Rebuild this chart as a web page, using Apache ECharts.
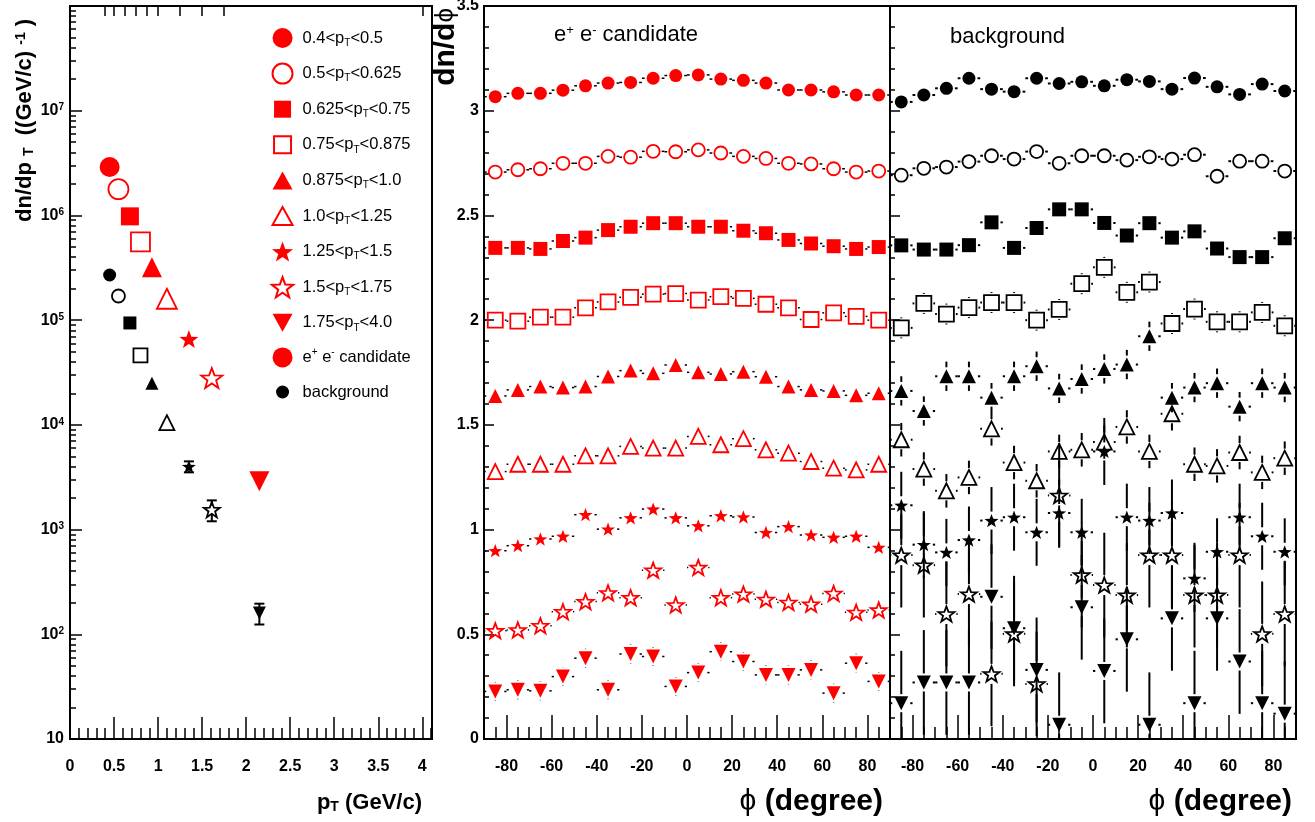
<!DOCTYPE html>
<html>
<head>
<meta charset="utf-8">
<title>dn/dpT and dn/dphi</title>
<script src="https://cdn.jsdelivr.net/npm/echarts@6.0.0/dist/echarts.min.js"></script>
<style>
  html, body { margin: 0; padding: 0; background: #fff; }
  #chart { width: 1315px; height: 822px; }
</style>
</head>
<body>
<div id="chart"></div>
<script>
// ---- left panel: pT spectra ----
const ptBins = ['0.4<pT<0.5', '0.5<pT<0.625', '0.625<pT<0.75', '0.75<pT<0.875', '0.875<pT<1.0',
                '1.0<pT<1.25', '1.25<pT<1.5', '1.5<pT<1.75', '1.75<pT<4.0'];
const ptEdges = [0.4, 0.5, 0.625, 0.75, 0.875, 1.0, 1.25, 1.5, 1.75, 4.0];
const ptMean = [0.45, 0.55, 0.68, 0.80, 0.93, 1.10, 1.35, 1.61, 2.15];
const candYield = [2.9e6, 1.78e6, 9.8e5, 5.6e5, 3.2e5, 1.6e5, 6.6e4, 2.8e4, 2.9e3];
const bgYield = [2.7e5, 1.7e5, 9.4e4, 4.6e4, 2.5e4, 1.05e4, 4.0e3, 1.55e3, 1.6e2];
const bgYieldErr = [0, 0, 0, 0, 0, 0, 480, 350, 36];
const ptTicks = [0, 0.5, 1, 1.5, 2, 2.5, 3, 3.5, 4];

// ---- phi distributions ----
const phi = [-85, -75, -65, -55, -45, -35, -25, -15, -5, 5, 15, 25, 35, 45, 55, 65, 75, 85];
const phiTicks = [-80, -60, -40, -20, 0, 20, 40, 60, 80];

const cand1 = [3.067, 3.083, 3.083, 3.098, 3.119, 3.132, 3.135, 3.155, 3.168, 3.171, 3.151, 3.145, 3.132, 3.099, 3.099, 3.090, 3.075, 3.075];
const cand2 = [2.707, 2.718, 2.723, 2.749, 2.749, 2.782, 2.778, 2.806, 2.804, 2.813, 2.798, 2.782, 2.772, 2.749, 2.746, 2.723, 2.707, 2.712];
const cand3 = [2.345, 2.345, 2.340, 2.378, 2.394, 2.430, 2.446, 2.463, 2.463, 2.446, 2.446, 2.427, 2.415, 2.383, 2.366, 2.353, 2.340, 2.349];
const cand4 = [2.000, 1.995, 2.014, 2.014, 2.059, 2.087, 2.109, 2.124, 2.127, 2.096, 2.112, 2.104, 2.076, 2.059, 2.003, 2.035, 2.018, 2.000];
const cand5 = [1.638, 1.667, 1.683, 1.678, 1.683, 1.731, 1.759, 1.746, 1.786, 1.751, 1.743, 1.754, 1.730, 1.683, 1.667, 1.662, 1.641, 1.651];
const cand6 = [1.277, 1.312, 1.312, 1.312, 1.352, 1.352, 1.397, 1.389, 1.389, 1.445, 1.405, 1.434, 1.381, 1.365, 1.325, 1.293, 1.285, 1.312];
const cand7 = [0.899, 0.923, 0.955, 0.968, 1.071, 1.002, 1.056, 1.098, 1.056, 1.018, 1.066, 1.060, 0.986, 1.014, 0.974, 0.963, 0.968, 0.915];
const cand8 = [0.517, 0.521, 0.541, 0.608, 0.656, 0.698, 0.675, 0.806, 0.640, 0.819, 0.675, 0.692, 0.667, 0.652, 0.644, 0.695, 0.605, 0.616];
const cand9 = [0.227, 0.235, 0.230, 0.298, 0.386, 0.235, 0.406, 0.394, 0.251, 0.317, 0.417, 0.370, 0.306, 0.306, 0.330, 0.219, 0.362, 0.275];
const candErr = [0.008, 0.010, 0.012, 0.015, 0.020, 0.025, 0.025, 0.040, 0.045];

const bg1 = [3.042, 3.075, 3.107, 3.155, 3.103, 3.091, 3.155, 3.130, 3.138, 3.119, 3.148, 3.140, 3.103, 3.156, 3.114, 3.078, 3.127, 3.094];
const bg2 = [2.692, 2.725, 2.731, 2.757, 2.785, 2.769, 2.805, 2.749, 2.785, 2.785, 2.764, 2.780, 2.769, 2.790, 2.687, 2.759, 2.759, 2.712];
const bg3 = [2.357, 2.337, 2.337, 2.358, 2.467, 2.345, 2.440, 2.529, 2.529, 2.464, 2.404, 2.463, 2.394, 2.424, 2.342, 2.301, 2.301, 2.391];
const bg4 = [1.963, 2.080, 2.029, 2.060, 2.084, 2.084, 2.000, 2.051, 2.174, 2.252, 2.133, 2.182, 1.984, 2.053, 1.992, 1.992, 2.037, 1.973];
const bg5 = [1.662, 1.566, 1.732, 1.732, 1.630, 1.732, 1.780, 1.674, 1.719, 1.767, 1.788, 1.923, 1.630, 1.678, 1.699, 1.587, 1.699, 1.678];
const bg6 = [1.429, 1.289, 1.185, 1.249, 1.481, 1.320, 1.233, 1.373, 1.381, 1.418, 1.490, 1.373, 1.553, 1.312, 1.304, 1.368, 1.273, 1.341];
const bg7 = [1.116, 0.928, 0.891, 0.950, 1.043, 1.059, 0.987, 1.079, 0.987, 1.373, 1.059, 1.043, 1.079, 0.767, 0.894, 1.059, 0.968, 0.894];
const bg8 = [0.878, 0.830, 0.597, 0.692, 0.311, 0.502, 0.263, 1.163, 0.783, 0.735, 0.687, 0.878, 0.878, 0.687, 0.687, 0.878, 0.502, 0.597];
const bg9 = [0.171, 0.270, 0.270, 0.270, 0.679, 0.529, 0.330, 0.068, 0.629, 0.325, 0.476, 0.068, 0.576, 0.171, 0.576, 0.370, 0.171, 0.121];
const bgErr = [0.012, 0.020, 0.030, 0.050, 0.070, 0.080, 0.160, 0.250, 0.250];

const candSets = [cand1, cand2, cand3, cand4, cand5, cand6, cand7, cand8, cand9];
const bgSets = [bg1, bg2, bg3, bg4, bg5, bg6, bg7, bg8, bg9];

// ---- styling ----
const FONT = "'Liberation Sans', Arial, sans-serif";
const RED = '#ff0000';
const BLACK = '#000000';
const STAR = 'path://M50 0L62.5 34L98.5 35L70 57L80.5 92L50 71L19.5 92L30 57L1.5 35L37.5 34Z';
const markers = [
  { symbol: 'circle', open: false },
  { symbol: 'circle', open: true },
  { symbol: 'rect', open: false, icon: 'path://M0 0M20 20M1.5 1.5L18.5 1.5L18.5 18.5L1.5 18.5Z' },
  { symbol: 'rect', open: true, icon: 'path://M0 0M20 20M1.5 1.5L18.5 1.5L18.5 18.5L1.5 18.5Z' },
  { symbol: 'triangle', open: false, icon: 'path://M0 0M20 20M10 1L20 19L0 19Z' },
  { symbol: 'triangle', open: true, icon: 'path://M0 0M20 20M10 1L20 19L0 19Z' },
  { symbol: STAR, open: false },
  { symbol: STAR, open: true },
  { symbol: 'triangle', open: false, rotate: 180, icon: 'path://M0 0M20 20M0 1L20 1L10 19Z' }
];
const BG_ICON = 'path://M0 0M20 20M3.5 10A6.5 6.5 0 1 0 16.5 10A6.5 6.5 0 1 0 3.5 10Z';
const leftRedSize = [20, 20, 18, 19, 20, 20, 19, 21, 20];
const leftBlackSize = [13, 13, 13, 14, 13, 15, 14, 16, 13];
const phiSize = [13, 13, 14, 15, 14, 15, 14, 16, 14];

const ptMinor = [];
for (let v = 1; v <= 41; v++) ptMinor.push(v / 10);
const phiMinor = [];
for (let v = -85; v <= 85; v += 5) phiMinor.push(v);
const logMinor = [];
for (let d = 1; d < 8; d++) for (let m = 2; m <= 9; m++) logMinor.push(d + Math.log10(m));

function markerSeries(name, xi, yi, xs, ys, k, color, size) {
  const m = markers[k];
  return {
    name: name, type: 'scatter', xAxisIndex: xi, yAxisIndex: yi,
    data: xs.map((x, i) => [x, ys[i]]),
    symbol: m.symbol, symbolRotate: m.rotate || 0, symbolSize: size, symbolKeepAspect: true,
    itemStyle: m.open
      ? { color: 'rgba(255,255,255,0)', borderColor: color, borderWidth: 1.8, opacity: 1 }
      : { color: color, borderWidth: 0, opacity: 1 },
    silent: true, z: 3
  };
}

// error bars drawn ROOT-style: they stop short of the marker
function errorBars(halfX, cap, width, size) {
  return function (params, api) {
    const x = api.value(0), y = api.value(1), e = api.value(2);
    const cs = params.coordSys;
    const clampY = v => Math.min(cs.y + cs.height, Math.max(cs.y, v));
    const c = api.coord([x, y]);
    const gap = size / 2 + 2;
    const ls = { stroke: '#000', lineWidth: width };
    const kids = [];
    const seg = (x1, y1, x2, y2) => kids.push({ type: 'line', shape: { x1: x1, y1: y1, x2: x2, y2: y2 }, style: ls });
    if (e > 0) {
      const top = clampY(api.coord([x, y + e])[1]);
      const bot = clampY(api.coord([x, y - e])[1]);
      if (top < c[1] - gap) seg(c[0], top, c[0], c[1] - gap);
      if (bot > c[1] + gap) seg(c[0], c[1] + gap, c[0], bot);
      if (cap) {
        seg(c[0] - cap, top, c[0] + cap, top);
        seg(c[0] - cap, bot, c[0] + cap, bot);
      }
    }
    if (halfX) {
      const l = api.coord([x - halfX, y])[0], r = api.coord([x + halfX, y])[0];
      if (l < c[0] - gap) seg(l, c[1], c[0] - gap, c[1]);
      if (r > c[0] + gap) seg(c[0] + gap, c[1], r, c[1]);
    }
    return { type: 'group', children: kids };
  };
}

function errorSeries(xi, yi, xs, ys, errs, halfX, cap, width, size) {
  return {
    type: 'custom', xAxisIndex: xi, yAxisIndex: yi, silent: true, z: 2,
    encode: { x: 0, y: 1 },
    data: xs.map((x, i) => [x, ys[i], errs[i]]),
    renderItem: errorBars(halfX, cap, width, size)
  };
}

const tickLine = { color: '#000', width: 1.5 };
const labelStyle = { color: '#000', fontFamily: FONT, fontWeight: 'bold', fontSize: 16 };

function tickAxis(gridIndex, min, max, values, len, pos, withLabels) {
  return {
    type: 'value', gridIndex: gridIndex, min: min, max: max, position: pos,
    axisLine: { show: false, onZero: false },
    splitLine: { show: false },
    axisTick: { show: true, inside: true, length: len, customValues: values, lineStyle: tickLine },
    axisLabel: withLabels
      ? Object.assign({ show: true, customValues: values, margin: 20, formatter: v => String(v) }, labelStyle)
      : { show: false }
  };
}

function phiYAxis(gridIndex, withLabels) {
  return {
    type: 'value', gridIndex: gridIndex, min: 0, max: 3.5, interval: 0.5, position: 'left',
    axisLine: { show: false, onZero: false },
    splitLine: { show: false },
    axisTick: { show: true, inside: true, length: 10, lineStyle: tickLine },
    minorTick: { show: true, splitNumber: 5, length: 5, lineStyle: tickLine },
    axisLabel: withLabels ? Object.assign({ show: true, margin: 5 }, labelStyle) : { show: false }
  };
}

const gridBox = { show: true, borderColor: '#000', borderWidth: 2, backgroundColor: 'transparent', outerBoundsMode: 'none' };

const series = [];
// left panel
ptBins.forEach((name, k) => {
  series.push(markerSeries(name, 0, 0, [ptMean[k]], [candYield[k]], k, RED, leftRedSize[k]));
});
ptBins.forEach((name, k) => {
  series.push(markerSeries('bg ' + name, 0, 0, [ptMean[k]], [bgYield[k]], k, BLACK, leftBlackSize[k]));
  series.push(errorSeries(0, 0, [ptMean[k]], [bgYield[k]], [bgYieldErr[k]], 0, 5, 2, 4));
});
series.push({ name: 'e+ e- candidate', type: 'scatter', xAxisIndex: 0, yAxisIndex: 0, data: [], symbol: 'circle', itemStyle: { color: RED, opacity: 1 } });
series.push({ name: 'background', type: 'scatter', xAxisIndex: 0, yAxisIndex: 0, data: [], symbol: 'circle', itemStyle: { color: BLACK, opacity: 1 } });
// middle panel: e+e- candidates
candSets.forEach((ys, k) => {
  series.push(errorSeries(3, 2, phi, ys, phi.map(() => candErr[k]), 5, 0, 1.5, phiSize[k]));
  series.push(markerSeries('cand ' + ptBins[k], 3, 2, phi, ys, k, RED, phiSize[k]));
});
// right panel: background
bgSets.forEach((ys, k) => {
  series.push(errorSeries(5, 3, phi, ys, phi.map(() => bgErr[k]), 5, 0, 2, phiSize[k]));
  series.push(markerSeries('bgphi ' + ptBins[k], 5, 3, phi, ys, k, BLACK, phiSize[k]));
});

const subRich = {
  sub: { fontFamily: FONT, fontSize: 10, verticalAlign: 'bottom', lineHeight: 12 },
  sup: { fontFamily: FONT, fontSize: 10, verticalAlign: 'top', lineHeight: 12 }
};

const legendData = ptBins.map((name, k) => markers[k].icon ? { name: name, icon: markers[k].icon } : name)
  .concat(['e+ e- candidate', { name: 'background', icon: BG_ICON }]);

const option = {
  animation: false,
  backgroundColor: '#ffffff',
  textStyle: { fontFamily: FONT, color: '#000' },
  grid: [
    Object.assign({ left: 70, top: 6, width: 362, height: 733 }, gridBox),
    Object.assign({ left: 484, top: 6, width: 406, height: 733 }, gridBox),
    Object.assign({ left: 890, top: 6, width: 406, height: 733 }, gridBox)
  ],
  xAxis: [
    tickAxis(0, 0, 4.11, ptTicks, 22, 'bottom', true),   // 0
    tickAxis(0, 0, 4.11, ptMinor, 11, 'bottom', false),  // 1
    tickAxis(0, 0, 4.11, ptEdges, 10, 'top', false),     // 2
    tickAxis(1, -90, 90, phiTicks, 24, 'bottom', true),  // 3
    tickAxis(1, -90, 90, phiMinor, 12, 'bottom', false), // 4
    tickAxis(2, -90, 90, phiTicks, 24, 'bottom', true),  // 5
    tickAxis(2, -90, 90, phiMinor, 12, 'bottom', false)  // 6
  ],
  yAxis: [
    {
      type: 'log', logBase: 10, gridIndex: 0, min: 10, max: 1e8, splitNumber: 10, position: 'left',
      axisLine: { show: false, onZero: false },
      splitLine: { show: false },
      axisTick: { show: true, inside: true, length: 12, lineStyle: tickLine },
      axisLabel: Object.assign({
        show: true, margin: 6, showMaxLabel: false,
        formatter: v => {
          const e = Math.round(Math.log10(v));
          return e === 1 ? '10' : '10{sup|' + e + '}';
        },
        rich: { sup: { fontFamily: FONT, fontWeight: 'bold', fontSize: 10, verticalAlign: 'top', lineHeight: 10 } }
      }, labelStyle)
    },
    {
      type: 'value', gridIndex: 0, min: 1, max: 8, position: 'left',
      axisLine: { show: false, onZero: false },
      splitLine: { show: false },
      axisTick: { show: true, inside: true, length: 6, customValues: logMinor, lineStyle: tickLine },
      axisLabel: { show: false }
    },
    phiYAxis(1, true),
    phiYAxis(2, false)
  ],
  legend: {
    orient: 'vertical', left: 271, top: 28, padding: 0, itemWidth: 30, itemHeight: 20, itemGap: 14.6,
    selectedMode: false,
    data: legendData,
    formatter: n => n.replace('pT', 'p{sub|T}').replace('e+ e-', 'e{sup|+} e{sup|-}'),
    textStyle: { fontFamily: FONT, fontSize: 16.5, color: '#000', lineHeight: 20, rich: subRich }
  },
  graphic: [
    {
      type: 'text', x: 25, y: 222, rotation: Math.PI / 2, silent: true,
      style: {
        text: 'dn/dp {s|T}  ((GeV/c) {u|-1} )', fill: '#000', align: 'left', verticalAlign: 'middle',
        font: 'bold 22px ' + FONT,
        rich: {
          s: { fontFamily: FONT, fontWeight: 'bold', fontSize: 14, verticalAlign: 'bottom', lineHeight: 14 },
          u: { fontFamily: FONT, fontWeight: 'bold', fontSize: 14, verticalAlign: 'top', lineHeight: 14 }
        }
      }
    },
    {
      type: 'text', x: 422, y: 803, silent: true,
      style: {
        text: 'p{s|T} (GeV/c)', fill: '#000', align: 'right', verticalAlign: 'middle',
        font: 'bold 22px ' + FONT,
        rich: { s: { fontFamily: FONT, fontWeight: 'bold', fontSize: 14, verticalAlign: 'bottom', lineHeight: 14 } }
      }
    },
    {
      type: 'text', x: 446, y: 8, rotation: Math.PI / 2, silent: true,
      style: {
        text: 'dn/d{p|ϕ}', fill: '#000', align: 'right', verticalAlign: 'middle',
        font: 'bold 30px ' + FONT,
        rich: { p: { fontFamily: FONT, fontWeight: 'normal', fontSize: 26 } }
      }
    },
    {
      type: 'text', x: 883, y: 802, silent: true,
      style: {
        text: '{p|ϕ} (degree)', fill: '#000', align: 'right', verticalAlign: 'middle',
        font: 'bold 30px ' + FONT,
        rich: { p: { fontFamily: FONT, fontWeight: 'normal', fontSize: 30 } }
      }
    },
    {
      type: 'text', x: 1292, y: 802, silent: true,
      style: {
        text: '{p|ϕ} (degree)', fill: '#000', align: 'right', verticalAlign: 'middle',
        font: 'bold 30px ' + FONT,
        rich: { p: { fontFamily: FONT, fontWeight: 'normal', fontSize: 30 } }
      }
    },
    {
      type: 'text', x: 554, y: 35, silent: true,
      style: {
        text: 'e{u|+} e{u|-} candidate', fill: '#000', align: 'left', verticalAlign: 'middle',
        font: '22px ' + FONT,
        rich: { u: { fontFamily: FONT, fontSize: 13, verticalAlign: 'top', lineHeight: 13 } }
      }
    },
    {
      type: 'text', x: 950, y: 37, silent: true,
      style: { text: 'background', fill: '#000', align: 'left', verticalAlign: 'middle', font: '22px ' + FONT }
    }
  ],
  series: series
};

const chart = echarts.init(document.getElementById('chart'), null, { renderer: 'canvas' });
chart.setOption(option);
</script>
</body>
</html>
